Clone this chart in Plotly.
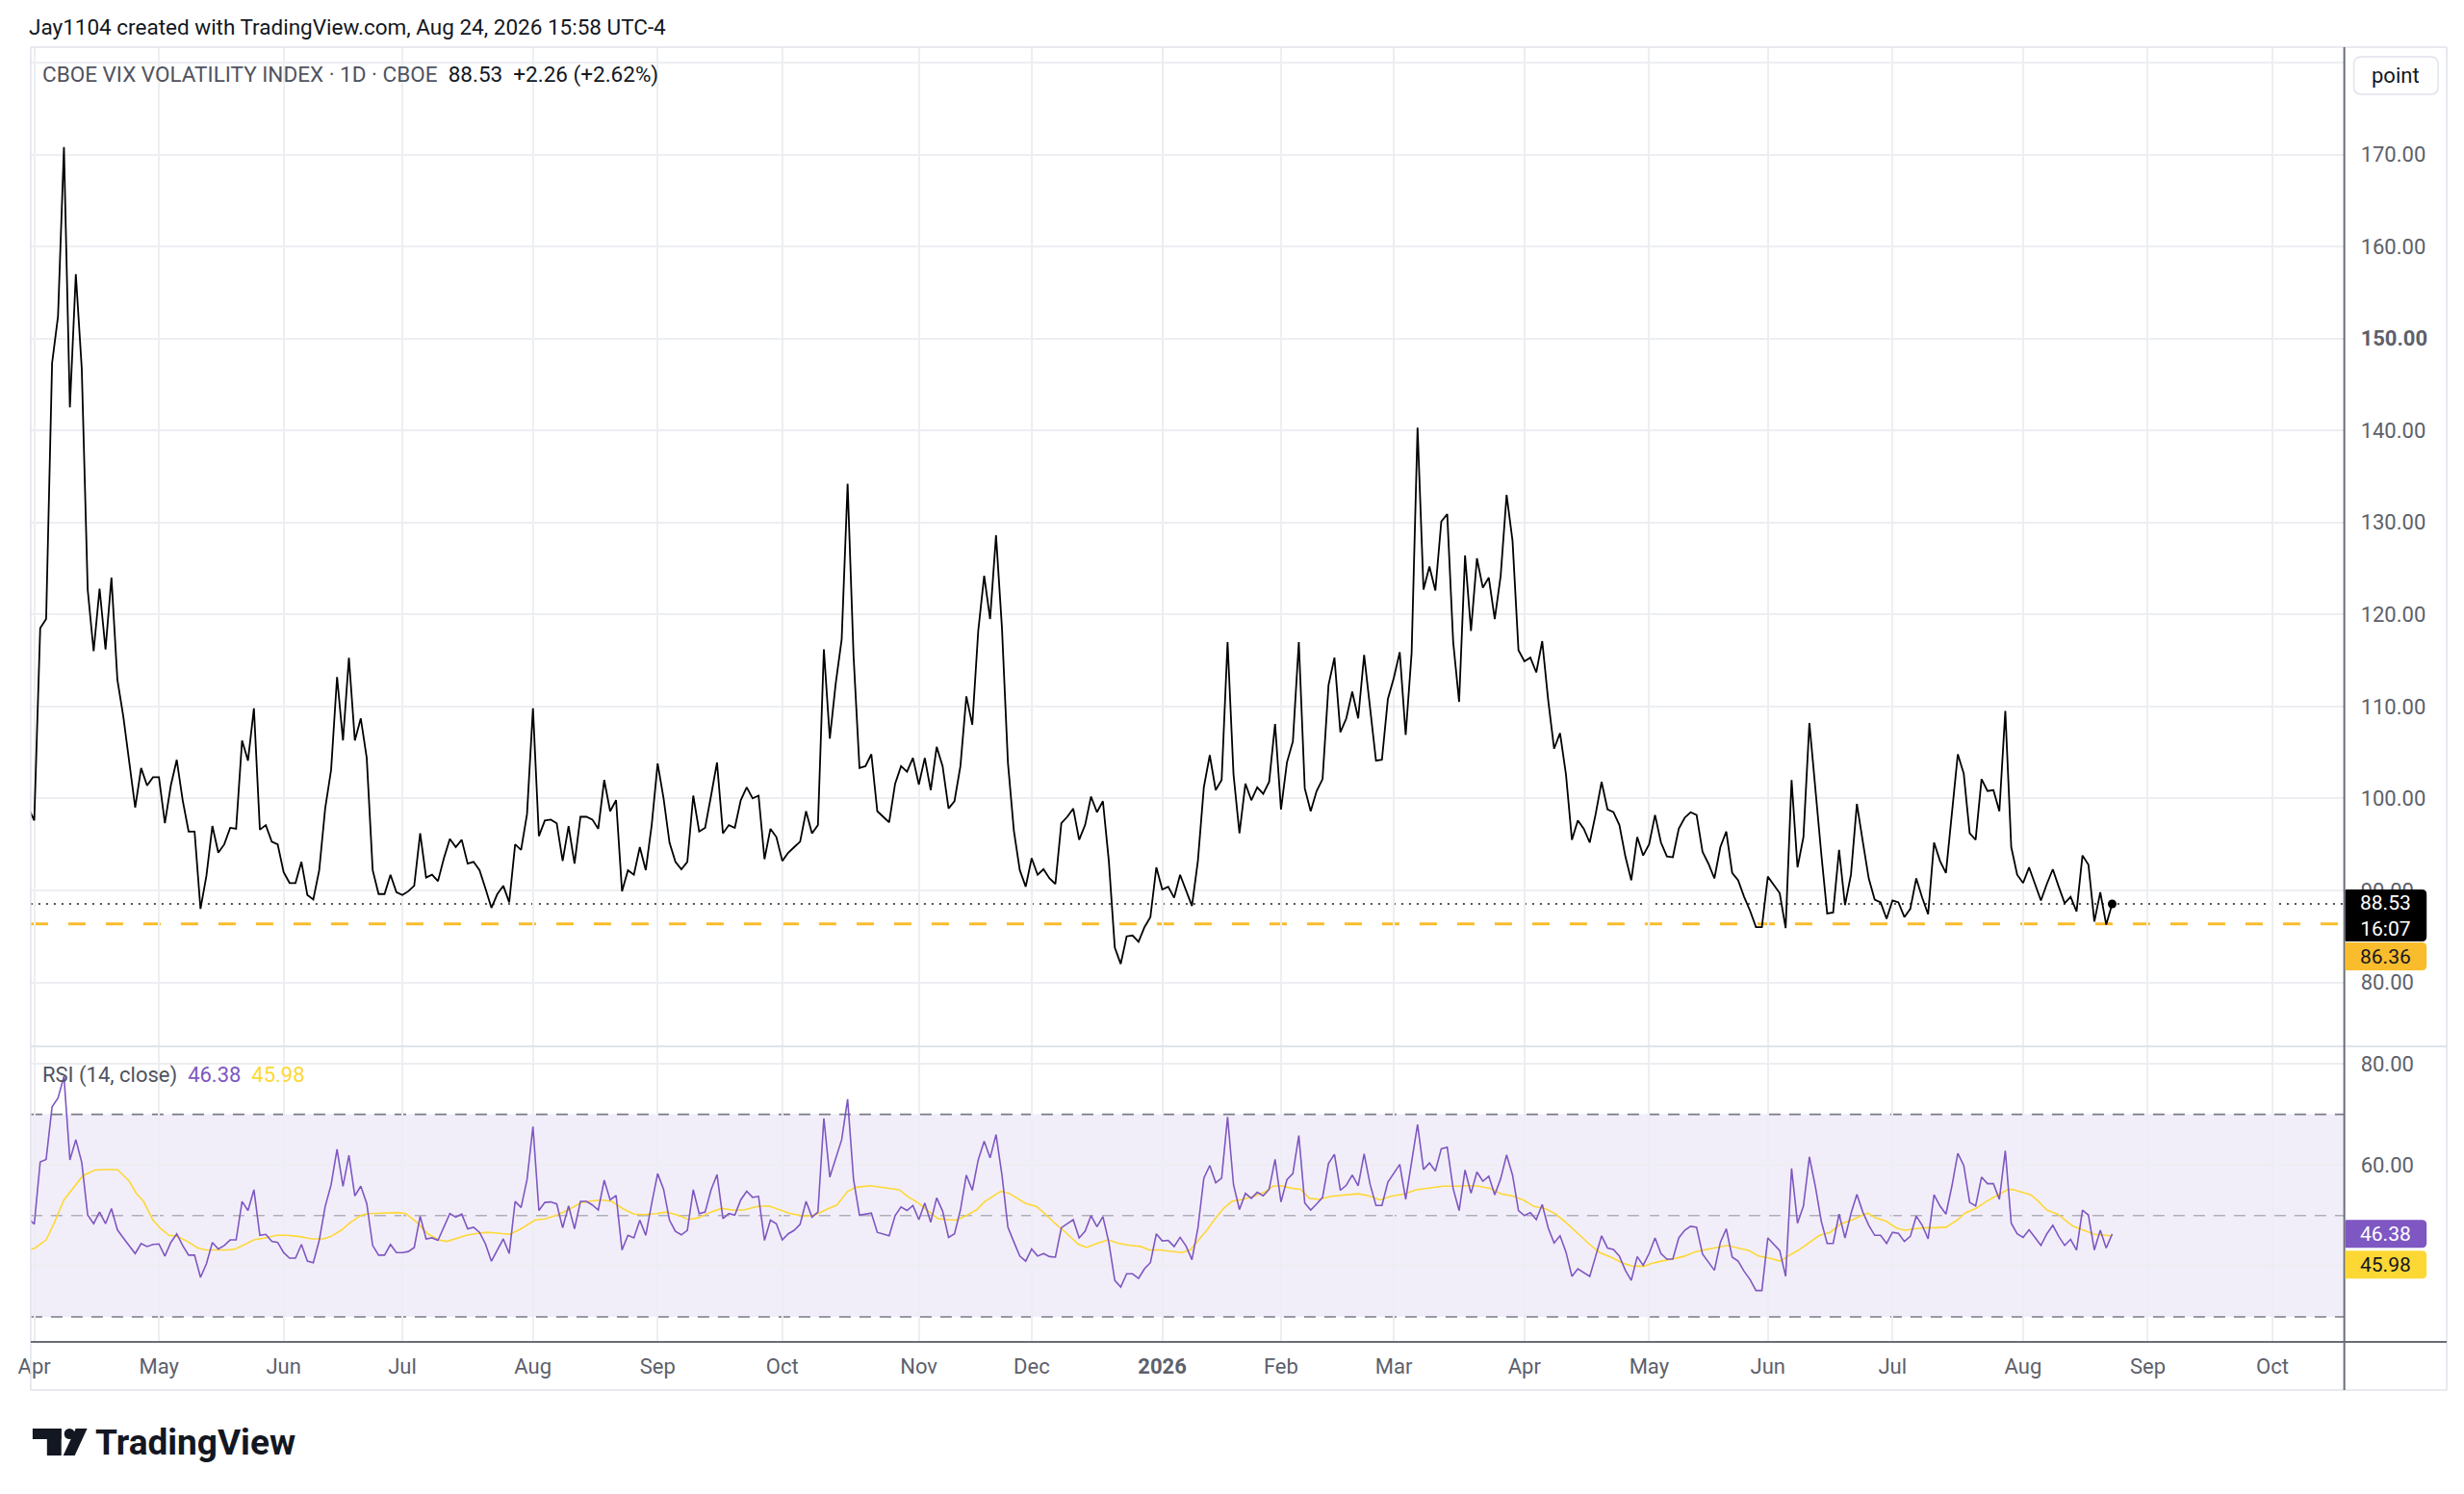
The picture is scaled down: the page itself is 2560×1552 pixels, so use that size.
import plotly.graph_objects as go

# ---- data (daily bars, bar 0 = 2025-04-01) ----
FIRST_BAR = -1

PRICE = [
    99.0, 97.6,
    118.5, 119.5, 147.3, 152.4, 170.8, 142.5, 157.0, 146.7, 122.7, 116.0,
    122.8, 116.2, 124.0, 112.9, 108.9, 104.0, 99.0, 103.3, 101.4, 102.3,
    102.3, 97.3, 101.4, 104.2, 99.8, 96.4, 96.4, 88.0, 91.6, 97.0,
    94.1, 95.0, 96.8, 96.7, 106.3, 104.1, 109.8, 96.6, 97.1, 95.3,
    95.0, 92.0, 90.8, 90.8, 93.1, 89.5, 89.0, 92.2, 98.9, 103.1,
    113.2, 106.3, 115.3, 106.3, 108.7, 104.4, 92.2, 89.6, 89.6, 91.7,
    89.8, 89.5, 89.9, 90.5, 96.2, 91.4, 91.7, 91.0, 93.5, 95.6,
    94.7, 95.5, 92.9, 93.1, 92.2, 90.2, 88.1, 89.6, 90.5, 88.7,
    95.0, 94.4, 98.3, 109.8, 95.9, 97.6, 97.7, 97.3, 93.2, 97.0,
    92.9, 98.0, 98.0, 97.7, 96.7, 102.0, 98.6, 99.8, 89.9, 92.2,
    91.7, 94.7, 92.2, 97.1, 103.8, 100.0, 95.2, 93.1, 92.3, 93.1,
    100.3, 96.4, 96.8, 100.3, 103.9, 96.2, 97.1, 96.8, 99.8, 101.2,
    100.0, 100.3, 93.4, 96.7, 95.8, 93.2, 94.1, 94.7, 95.3, 98.6,
    96.2, 97.1, 116.2, 106.5, 112.5, 117.3, 134.2, 115.5, 103.3, 103.5,
    104.8, 98.6, 98.0, 97.4, 101.6, 103.5, 102.9, 104.4, 101.5, 104.4,
    100.9, 105.6, 103.5, 98.9, 99.7, 103.5, 111.1, 108.0, 118.2, 124.2,
    119.5, 128.6, 118.5, 103.9, 96.5, 92.2, 90.4, 93.5, 91.7, 92.3,
    91.3, 90.7, 97.3, 98.0, 98.9, 95.5, 97.1, 100.2, 98.5, 99.7,
    93.2, 83.8, 82.0, 85.0, 85.1, 84.4, 86.0, 87.1, 92.5, 90.1,
    90.4, 89.2, 91.7, 90.1, 88.3, 93.2, 101.2, 104.7, 100.9, 102.0,
    117.0, 102.6, 96.2, 101.6, 99.8, 101.2, 100.5, 101.8, 108.1, 98.8,
    103.9, 106.2, 117.0, 101.1, 98.6, 100.8, 102.1, 112.3, 115.3, 107.2,
    108.7, 111.6, 108.7, 115.6, 109.5, 104.1, 104.2, 110.8, 113.1, 115.9,
    106.9, 115.8, 140.3, 122.7, 125.2, 122.6, 130.1, 130.9, 117.0, 110.5,
    126.4, 118.2, 126.1, 122.9, 124.0, 119.5, 124.2, 133.0, 128.0, 116.1,
    114.9, 115.3, 113.7, 117.1, 110.7, 105.4, 107.1, 102.6, 95.5, 97.6,
    96.7, 95.2, 98.3, 101.8, 98.8, 98.5, 97.1, 93.7, 91.1, 95.8,
    93.8, 95.0, 98.2, 95.2, 93.7, 93.6, 96.7, 97.9, 98.5, 98.2,
    94.2, 92.9, 91.3, 94.7, 96.4, 91.9, 91.1, 89.3, 87.8, 86.0,
    86.0, 91.5, 90.6, 89.7, 85.9, 102.0, 92.5, 95.8, 108.2, 100.8,
    94.0, 87.5, 87.6, 94.4, 88.4, 91.7, 99.4, 95.3, 91.3, 89.0,
    88.7, 86.9, 88.9, 88.7, 87.1, 88.0, 91.3, 89.2, 87.4, 95.2,
    93.2, 91.9, 98.3, 104.8, 102.7, 96.2, 95.5, 102.1, 100.8, 100.9,
    98.6, 109.5, 94.7, 91.7, 90.8, 92.5, 90.7, 88.9, 90.7, 92.3,
    90.4, 88.6, 89.3, 87.7, 93.8, 92.8, 86.6, 89.8, 86.27, 88.53,
]

RSI = [
    49.5, 48.3,
    60.6, 61.1, 71.5, 73.2, 77.5, 61.0, 65.0, 60.5, 50.1, 48.4,
    50.7, 48.4, 51.4, 47.2, 45.6, 44.1, 42.5, 44.5, 43.9, 44.3,
    44.4, 42.0, 44.7, 46.4, 44.1, 42.2, 42.2, 37.8, 40.5, 44.7,
    43.4, 44.1, 45.2, 45.2, 52.8, 51.0, 55.1, 46.1, 46.3, 44.9,
    44.7, 42.7, 41.6, 41.6, 44.3, 41.0, 40.7, 45.1, 51.8, 56.1,
    63.1, 55.8, 61.9, 53.9, 55.8, 52.4, 44.1, 42.2, 42.2, 44.3,
    42.7, 42.7, 42.9, 43.7, 49.9, 45.4, 45.6, 45.1, 47.9, 50.4,
    49.7, 50.3, 47.4, 47.7, 46.7, 44.4, 41.0, 43.1, 45.4, 42.5,
    52.8, 51.6, 57.1, 67.6, 51.0, 52.6, 52.7, 52.3, 47.6, 51.9,
    47.4, 52.8, 52.8, 52.1, 51.1, 57.0, 53.1, 54.0, 43.2, 46.1,
    45.6, 49.1, 46.1, 52.4, 58.3, 55.2, 49.1, 46.9, 46.2, 47.1,
    55.1, 50.4, 50.7, 55.1, 58.1, 49.4, 50.4, 50.1, 53.1, 54.8,
    53.6, 53.8, 45.1, 49.1, 48.4, 45.2, 46.4, 47.1, 48.3, 52.8,
    49.7, 50.7, 69.2, 57.6, 61.3, 65.0, 73.0, 57.1, 50.1, 50.3,
    50.5, 46.7, 46.4, 46.0, 50.0, 51.7, 51.0, 52.0, 49.2, 52.5,
    48.7, 53.5, 50.9, 45.7, 46.4, 51.1, 58.0, 55.0, 61.0, 64.7,
    61.4, 66.0, 58.0, 47.7, 44.8, 42.0, 41.0, 43.4, 42.0, 42.5,
    41.9, 41.8, 47.6, 48.4, 49.2, 45.6, 46.9, 50.0, 47.8, 49.8,
    44.7, 37.2, 35.9, 38.5, 38.5, 37.6, 39.5, 40.7, 46.4, 45.0,
    45.1, 43.9, 45.7, 44.0, 41.3, 47.5, 57.4, 59.9, 56.5, 57.4,
    69.5, 56.1, 51.2, 54.4, 53.4, 54.6, 53.9, 55.2, 61.1, 52.7,
    57.1, 58.3, 65.8, 52.5, 51.1, 52.3, 53.6, 60.3, 62.1, 55.0,
    56.0, 58.0, 55.9, 62.2, 56.2, 52.0, 52.0, 56.6, 58.4, 60.1,
    53.2, 60.2, 68.0, 59.1, 60.4, 58.8, 63.2, 63.5, 55.3, 51.0,
    59.0, 54.4, 58.6, 56.8, 57.8, 54.1, 57.3, 62.0, 58.0, 51.0,
    50.0, 50.6, 49.2, 52.2, 47.6, 44.6, 46.0, 42.8, 38.0, 39.5,
    38.7, 38.0, 42.0, 46.0, 43.6, 43.3, 42.0, 39.2, 37.2, 41.9,
    40.2, 42.5, 45.6, 42.5, 41.4, 41.4, 45.6, 47.1, 47.9, 47.7,
    42.4, 40.9, 39.2, 44.7, 47.4, 41.8, 41.0, 39.0, 37.4, 35.2,
    35.2, 45.6, 44.3, 43.1, 38.0, 59.3, 48.5, 51.9, 61.6, 55.8,
    48.9, 44.5, 44.5, 50.3, 45.6, 50.4, 54.2, 50.7, 48.1, 46.1,
    46.1, 44.5, 46.7, 46.5, 44.9, 45.9, 49.9, 48.1, 45.4, 54.1,
    51.9, 50.3, 55.8, 62.3, 59.9, 52.6, 51.9, 57.6, 56.3, 56.3,
    53.2, 62.8, 48.5, 46.4, 45.7, 47.2, 45.7, 44.1, 46.4, 48.1,
    45.9, 44.1, 45.3, 43.2, 51.1, 50.1, 43.2, 47.1, 43.6, 46.38,
]

# RSI-based MA, read at these bar positions
RSI_MA_BAR = [
    -0.6, 0, 2, 3.3, 5, 6.5, 8.2, 10.2, 11.6, 14, 16, 17.2, 18.4, 20, 21.3, 22.7,
    24.1, 25.8, 27.4, 28.8, 30.6, 32.5, 33.9, 35.2, 37, 38.9, 40.8, 42.6, 44.5,
    46.8, 48.7, 50, 51.7, 53.3, 55.1, 56.5, 59.3, 61.2, 62.6, 64.4, 66.3, 68.1,
    69.5, 70.9, 72.8, 74.6, 76.4, 78.3, 80.1, 82, 84.3, 86.2, 88, 89.9, 92.2,
    93.6, 95.4, 97.3, 99.1, 101, 102.8, 104.7, 106.5, 108.4, 110.2, 112, 113.9,
    115.8, 117.6, 119.5, 121.8, 123.7, 125.5, 127.4, 129.7, 131.5, 133.4, 135.2,
    137, 138.5, 140.8, 143.4, 145.7, 147.1, 149, 150.8, 152.2, 154, 155.4, 156.8,
    158.8, 160, 161.5, 162.8, 164.2, 165.6, 167, 168.8, 170.2, 172, 174, 175.8,
    177.2, 179, 180.9, 182.7, 184.6, 186.4, 187.8, 189.6, 191.5, 193.3, 194.7,
    196, 197.5, 198.9, 200.3, 201.7, 203.5, 205.4, 207.2, 208.6, 210, 211.8,
    213.3, 214.8, 216.5, 218.4, 220.7, 223, 224.8, 226.7, 228.5, 230.8, 232.7,
    235, 237.3, 239.6, 241.5, 243.3, 245.2, 247.1, 248.9, 250.8, 252.6, 254.5,
    256.3, 258.2, 260, 261.9, 263.7, 265.6, 267.4, 269.3, 271.1, 272.3, 274,
    275.9, 278, 279.4, 281.2, 283, 285.2, 287, 288.8, 290.5, 292.3, 294.1, 295.4,
    297.2, 299, 300.7, 302.5, 304.3, 306.1, 307.9, 308.8, 310.1, 311.9, 313.6,
    315, 316.7, 318.5, 320.3, 322, 323.9, 325.2, 327, 328.8, 330.5, 332.3, 333.2,
    334.5, 336.3, 337.6, 339, 340.8, 342.1, 343.4, 345.2, 347, 348.8, 350,
]
RSI_MA = [
    43.4, 43.5, 45.2, 48.4, 53.1, 55.4, 57.9, 59.0, 59.1, 59.1, 56.8, 54.4, 52.8,
    49.1, 47.4, 46.1, 45.9, 44.9, 43.7, 43.2, 43.2, 43.2, 43.4, 44.1, 45.2, 45.6,
    46.1, 46.1, 45.9, 45.4, 45.4, 45.9, 47.1, 48.7, 50.1, 50.4, 50.5, 50.6, 50.4,
    48.7, 46.4, 45.2, 44.9, 45.4, 46.1, 46.5, 46.7, 46.5, 46.3, 47.4, 49.1, 49.4,
    50.1, 51.1, 52.6, 52.8, 53.1, 52.8, 51.4, 50.3, 50.2, 50.4, 50.7, 50.1, 49.2,
    49.6, 50.7, 51.4, 51.1, 51.1, 51.8, 51.9, 51.1, 50.4, 49.9, 50.1, 51.2, 52.1,
    54.8, 55.6, 55.9, 55.4, 55.1, 53.8, 52.4, 50.7, 49.4, 49.2, 49.1, 49.9, 51.2,
    52.7, 53.8, 54.8, 54.4, 53.4, 52.4, 51.8, 50.4, 48.4, 46.4, 44.4, 43.7, 44.5,
    45.2, 44.5, 44.1, 43.9, 43.2, 43.2, 42.9, 42.7, 43.2, 45.1, 47.1, 49.4, 51.4,
    52.8, 53.2, 53.8, 54.6, 55.8, 55.9, 55.4, 55.2, 53.4, 53.2, 53.8, 54.1, 54.3,
    53.9, 53.1, 53.8, 54.3, 55.1, 55.4, 55.8, 55.8, 55.9, 55.8, 55.4, 54.3, 53.9,
    53.1, 51.8, 51.4, 50.3, 48.4, 46.4, 44.4, 42.7, 41.8, 40.7, 40.0, 40.0, 40.5,
    41.0, 41.4, 42.0, 42.7, 43.2, 43.6, 44.1, 43.6, 43.1, 42.0, 41.6, 41.0, 42.0,
    43.2, 44.7, 46.1, 46.7, 48.4, 49.1, 50.1, 50.5, 49.6, 48.9, 47.6, 47.1, 47.4,
    47.6, 47.6, 47.7, 49.1, 50.5, 51.4, 52.8, 53.9, 55.1, 55.2, 54.8, 54.1, 52.8,
    51.1, 50.3, 49.1, 47.9, 47.1, 46.3, 46.1, 45.98,
]

MONTH_BARS = [0, 21, 42, 62, 84, 105, 126, 149, 168, 190, 210, 229, 251, 272, 292, 313, 335, 356, 377]
MONTH_LABELS = ["Apr", "May", "Jun", "Jul", "Aug", "Sep", "Oct", "Nov", "Dec", "<b>2026</b>",
                "Feb", "Mar", "Apr", "May", "Jun", "Jul", "Aug", "Sep", "Oct"]

PRICE_TICKS = [80, 90, 100, 110, 120, 130, 140, 150, 160, 170, 180]
RSI_TICKS = [40, 60, 80]

LEVEL_LINE = 86.36          # yellow dashed horizontal line
LAST_TIME = "16:07"
RSI_LAST = 46.38
RSI_MA_LAST = 45.98

# ---- page geometry (pixels) ----
W, H = 2560, 1552
PANE_L, AXIS_X, RIGHT = 19, 2435, 2542
MAIN_TOP, SEP, RSI_BOT, BOTTOM = 49, 1087, 1394, 1444

FONT = "Roboto, Liberation Sans, Arial, sans-serif"
GRID = "#eceef2"
BORDER = "#e0e3eb"
SCALE = "#5d606b"


def px(x):
    return x / W


def py(y):
    return 1 - y / H


def rrect(x0, y0, x1, y1, rl, rr):
    # rounded rectangle path in paper coords (pixel input)
    pts = [
        f"M{px(x0 + rl)},{py(y0)}", f"L{px(x1 - rr)},{py(y0)}",
        f"Q{px(x1)},{py(y0)} {px(x1)},{py(y0 + rr)}", f"L{px(x1)},{py(y1 - rr)}",
        f"Q{px(x1)},{py(y1)} {px(x1 - rr)},{py(y1)}", f"L{px(x0 + rl)},{py(y1)}",
        f"Q{px(x0)},{py(y1)} {px(x0)},{py(y1 - rl)}", f"L{px(x0)},{py(y0 + rl)}",
        f"Q{px(x0)},{py(y0)} {px(x0 + rl)},{py(y0)}", "Z",
    ]
    return " ".join(pts)


bars = list(range(FIRST_BAR, FIRST_BAR + len(PRICE)))

fig = go.Figure()

fig.add_trace(go.Scatter(x=bars, y=PRICE, mode="lines", xaxis="x", yaxis="y",
                         line=dict(color="#000000", width=1.8), hoverinfo="skip"))
fig.add_trace(go.Scatter(x=[bars[-1]], y=[PRICE[-1]], mode="markers", xaxis="x", yaxis="y",
                         marker=dict(color="#000000", size=9), hoverinfo="skip"))
fig.add_trace(go.Scatter(x=RSI_MA_BAR, y=RSI_MA, mode="lines", xaxis="x2", yaxis="y2",
                         line=dict(color="#FDD835", width=1.6), hoverinfo="skip"))
fig.add_trace(go.Scatter(x=bars, y=RSI, mode="lines", xaxis="x2", yaxis="y2",
                         line=dict(color="#7E57C2", width=1.6), hoverinfo="skip"))

x_range = [-0.6, 389.1]
main_range = [80 - (SEP - 1020.5) / 9.556, 170 + (160.5 - MAIN_TOP) / 9.556]
rsi_range = [80 - (RSI_BOT - 1105) / 5.26, 80 + (1105 - SEP) / 5.26]

xdom = [px(PANE_L), px(AXIS_X)]

fig.update_layout(
    width=W, height=H,
    margin=dict(l=0, r=0, t=0, b=0),
    paper_bgcolor="white", plot_bgcolor="white",
    showlegend=False,
    font=dict(family=FONT, size=22, color="#131722"),
    xaxis=dict(domain=xdom, anchor="y", range=x_range, tickvals=MONTH_BARS,
               showticklabels=False, ticks="", showgrid=True, gridcolor=GRID, gridwidth=1.5,
               zeroline=False, showline=False),
    xaxis2=dict(domain=xdom, anchor="y2", range=x_range, matches="x", tickvals=MONTH_BARS,
                ticktext=MONTH_LABELS, ticks="", ticklabelstandoff=10,
                tickfont=dict(family=FONT, size=22, color=SCALE),
                showgrid=True, gridcolor=GRID, gridwidth=1.5, zeroline=False, showline=False),
    yaxis=dict(domain=[py(SEP), py(MAIN_TOP)], anchor="x", side="right", range=main_range,
               tickvals=PRICE_TICKS,
               ticktext=[("<b>%.2f</b>" % v) if v == 150 else ("" if v == 180 else "%.2f" % v)
                         for v in PRICE_TICKS],
               ticks="", ticklabelstandoff=16, tickfont=dict(family=FONT, size=22, color=SCALE),
               showgrid=True, gridcolor=GRID, gridwidth=1.5, zeroline=False, showline=False),
    yaxis2=dict(domain=[py(RSI_BOT), py(SEP)], anchor="x2", side="right", range=rsi_range,
                tickvals=RSI_TICKS, ticktext=["%.2f" % v for v in RSI_TICKS],
                ticks="", ticklabelstandoff=16, tickfont=dict(family=FONT, size=22, color=SCALE),
                showgrid=True, gridcolor=GRID, gridwidth=1.5, zeroline=False, showline=False),
)

shapes = []
# RSI band and levels
shapes.append(dict(type="rect", xref="x2 domain", yref="y2", x0=0, x1=1, y0=30, y1=70,
                   fillcolor="rgba(126,87,194,0.1)", line=dict(width=0), layer="below"))
for lvl, col in [(70, "#787b86"), (50, "rgba(120,123,134,0.55)"), (30, "#787b86")]:
    shapes.append(dict(type="line", xref="x2 domain", yref="y2", x0=0, x1=1, y0=lvl, y1=lvl,
                       line=dict(color=col, width=1.6, dash="12px,9px"), layer="below"))
# price lines on main pane
shapes.append(dict(type="line", xref="x domain", yref="y", x0=0, x1=1, y0=LEVEL_LINE, y1=LEVEL_LINE,
                   line=dict(color="#F9BC2C", width=3, dash="18px,21px"), layer="below"))
shapes.append(dict(type="line", xref="x domain", yref="y", x0=0, x1=1, y0=PRICE[-1], y1=PRICE[-1],
                   line=dict(color="#131722", width=1.3, dash="2px,6px"), layer="below"))


# frame lines
def hline(y, x0, x1, color, w):
    return dict(type="line", xref="paper", yref="paper", x0=px(x0), x1=px(x1), y0=py(y), y1=py(y),
                line=dict(color=color, width=w), layer="above")


def vline(x, y0, y1, color, w):
    return dict(type="line", xref="paper", yref="paper", x0=px(x), x1=px(x), y0=py(y0), y1=py(y1),
                line=dict(color=color, width=w), layer="above")


shapes += [
    hline(MAIN_TOP, PANE_L, RIGHT, BORDER, 1.5),
    hline(SEP, PANE_L, RIGHT, BORDER, 2),
    hline(BOTTOM, PANE_L, RIGHT, BORDER, 1.5),
    vline(PANE_L, MAIN_TOP, BOTTOM, BORDER, 1.5),
    vline(RIGHT, MAIN_TOP, BOTTOM, BORDER, 1.5),
    hline(RSI_BOT, PANE_L, RIGHT, "#6a6d78", 2),
    vline(AXIS_X, MAIN_TOP, BOTTOM, "#6a6d78", 2),
]


# price scale labels (boxes)
def price_y(v):
    return 160.5 + (170 - v) * 9.556


def rsi_y(v):
    return 1105 + (80 - v) * 5.26


labels = [
    # (centre y px, height, fill, text, text colour)
    (price_y(PRICE[-1]) + 12, 54, "#000000", "%.2f<br>%s" % (PRICE[-1], LAST_TIME), "#ffffff"),
    (price_y(PRICE[-1]) + 54.5, 29, "#F9BC2C", "%.2f" % LEVEL_LINE, "#131722"),
    (rsi_y(RSI_LAST), 29, "#7E57C2", "%.2f" % RSI_LAST, "#ffffff"),
    (rsi_y(RSI_LAST) + 32, 29, "#FDD835", "%.2f" % RSI_MA_LAST, "#131722"),
]
annotations = []
for cy, hgt, fill, txt, tcol in labels:
    shapes.append(dict(type="path", xref="paper", yref="paper",
                       path=rrect(AXIS_X + 1, cy - hgt / 2, 2521, cy + hgt / 2, 1, 5),
                       fillcolor=fill, line=dict(width=0), layer="above"))
    annotations.append(dict(xref="paper", yref="paper", x=px(2478.5), y=py(cy),
                            xanchor="center", yanchor="middle", showarrow=False, text=txt,
                            font=dict(family=FONT, size=21, color=tcol)))

# "point" unit box
shapes.append(dict(type="path", xref="paper", yref="paper", path=rrect(2445, 59, 2533, 98, 8, 8),
                   fillcolor="white", line=dict(color=BORDER, width=1.5), layer="above"))
annotations.append(dict(xref="paper", yref="paper", x=px(2489), y=py(78.5), xanchor="center",
                        yanchor="middle", showarrow=False, text="point",
                        font=dict(family=FONT, size=22, color="#131722")))

# header texts
annotations.append(dict(xref="paper", yref="paper", x=px(15), y=py(28), xanchor="left",
                        yanchor="middle", showarrow=False,
                        text="Jay1104 created with TradingView.com, Aug 24, 2026 15:58 UTC-4",
                        font=dict(family=FONT, size=22.5, color="#131722")))
annotations.append(dict(xref="paper", yref="paper", x=px(29), y=py(77), xanchor="left",
                        yanchor="middle", showarrow=False,
                        text="<span style='color:#50535e'>CBOE VIX VOLATILITY INDEX · 1D · CBOE</span>"
                             "&nbsp;&nbsp;88.53&nbsp;&nbsp;+2.26 (+2.62%)",
                        font=dict(family=FONT, size=22.5, color="#131722")))
annotations.append(dict(xref="paper", yref="paper", x=px(29), y=py(1117), xanchor="left",
                        yanchor="middle", showarrow=False,
                        text="<span style='color:#50535e'>RSI (14, close)</span>&nbsp;&nbsp;"
                             "<span style='color:#7E57C2'>%.2f</span>&nbsp;&nbsp;"
                             "<span style='color:#FDD835'>%.2f</span>" % (RSI_LAST, RSI_MA_LAST),
                        font=dict(family=FONT, size=22)))

# TradingView logo + wordmark
shapes += [
    dict(type="rect", xref="paper", yref="paper", x0=px(21), x1=px(51), y0=py(1495), y1=py(1484),
         fillcolor="#131722", line=dict(width=0), layer="above"),
    dict(type="rect", xref="paper", yref="paper", x0=px(36), x1=px(51), y0=py(1512), y1=py(1484),
         fillcolor="#131722", line=dict(width=0), layer="above"),
    dict(type="circle", xref="paper", yref="paper", x0=px(54), x1=px(65), y0=py(1495), y1=py(1484),
         fillcolor="#131722", line=dict(width=0), layer="above"),
    dict(type="path", xref="paper", yref="paper",
         path=f"M{px(66)},{py(1484)} L{px(78)},{py(1484)} L{px(65)},{py(1512)} L{px(53)},{py(1512)} Z",
         fillcolor="#131722", line=dict(width=0), layer="above"),
]
annotations.append(dict(xref="paper", yref="paper", x=px(84), y=py(1498), xanchor="left",
                        yanchor="middle", showarrow=False, text="<b>TradingView</b>",
                        font=dict(family=FONT, size=37, color="#131722")))

fig.update_layout(shapes=shapes, annotations=annotations)

# drop the default 8px page margin so the figure sits at the window origin
fig.write_html("out.html", config={"displayModeBar": False},
               post_script="document.body.style.margin='0px';")
